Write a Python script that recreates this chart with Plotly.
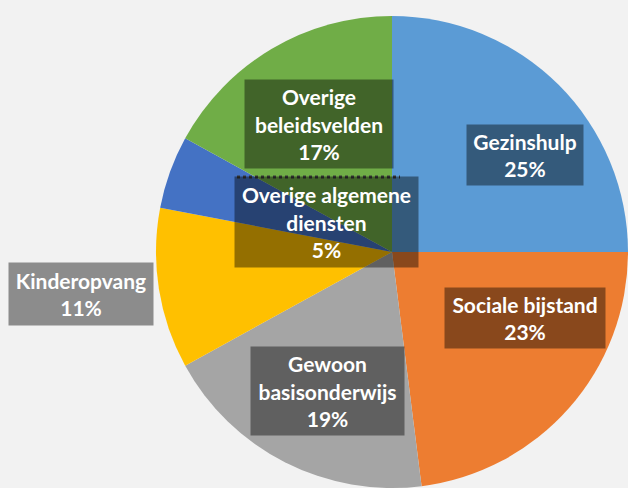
import plotly.graph_objects as go

W, H = 628, 488

categories = [
    "Gezinshulp",
    "Sociale bijstand",
    "Gewoon basisonderwijs",
    "Kinderopvang",
    "Overige algemene diensten",
    "Overige beleidsvelden",
]
shares = [25, 23, 19, 11, 5, 17]
label_texts = [
    "Gezinshulp",
    "Sociale bijstand",
    "Gewoon<br>basisonderwijs",
    "Kinderopvang",
    "Overige algemene<br>diensten",
    "Overige<br>beleidsvelden",
]
colors = ["#5B9BD5", "#ED7D31", "#A5A5A5", "#FFC000", "#4472C4", "#70AD47"]

# label box centres and sizes in pixels (x, y from top, w, h)
label_boxes = [
    (525, 155, 116, 60),
    (525, 318, 160, 60),
    (327, 391, 153, 88),
    (81, 294, 144, 62),
    (326, 222, 183, 90),
    (319, 124, 148, 88),
]

fig = go.Figure()

fig.add_trace(
    go.Pie(
        labels=categories,
        values=shares,
        marker=dict(colors=colors, line=dict(width=0)),
        sort=False,
        direction="clockwise",
        rotation=0,
        textinfo="none",
        hoverinfo="label+percent",
        domain=dict(x=[156 / W, 1], y=[0, (H - 16) / H]),
        showlegend=False,
    )
)

for text, value, (cx, cy, bw, bh) in zip(label_texts, shares, label_boxes):
    fig.add_annotation(
        x=cx / W,
        y=1 - cy / H,
        xref="paper",
        yref="paper",
        xanchor="center",
        yanchor="middle",
        text=f"{text}<br>{value}%",
        showarrow=False,
        width=bw,
        height=bh,
        borderpad=0,
        bgcolor="rgba(0,0,0,0.42)",
        font=dict(family="Lato", size=21, color="white", weight="bold"),
        align="center",
        valign="middle",
    )

# dotted edge along the top of the "Overige algemene diensten" box
fig.add_shape(
    type="line",
    xref="paper",
    yref="paper",
    x0=237 / W,
    x1=400 / W,
    y0=1 - 177 / H,
    y1=1 - 177 / H,
    line=dict(color="#3A3A3A", width=3, dash="dot"),
)

fig.update_layout(
    width=W,
    height=H,
    margin=dict(l=0, r=0, t=0, b=0),
    paper_bgcolor="#F2F2F2",
    plot_bgcolor="#F2F2F2",
)

fig.write_html(
    "out.html",
    config={"displayModeBar": False},
    post_script="document.body.style.margin='0';",
)
